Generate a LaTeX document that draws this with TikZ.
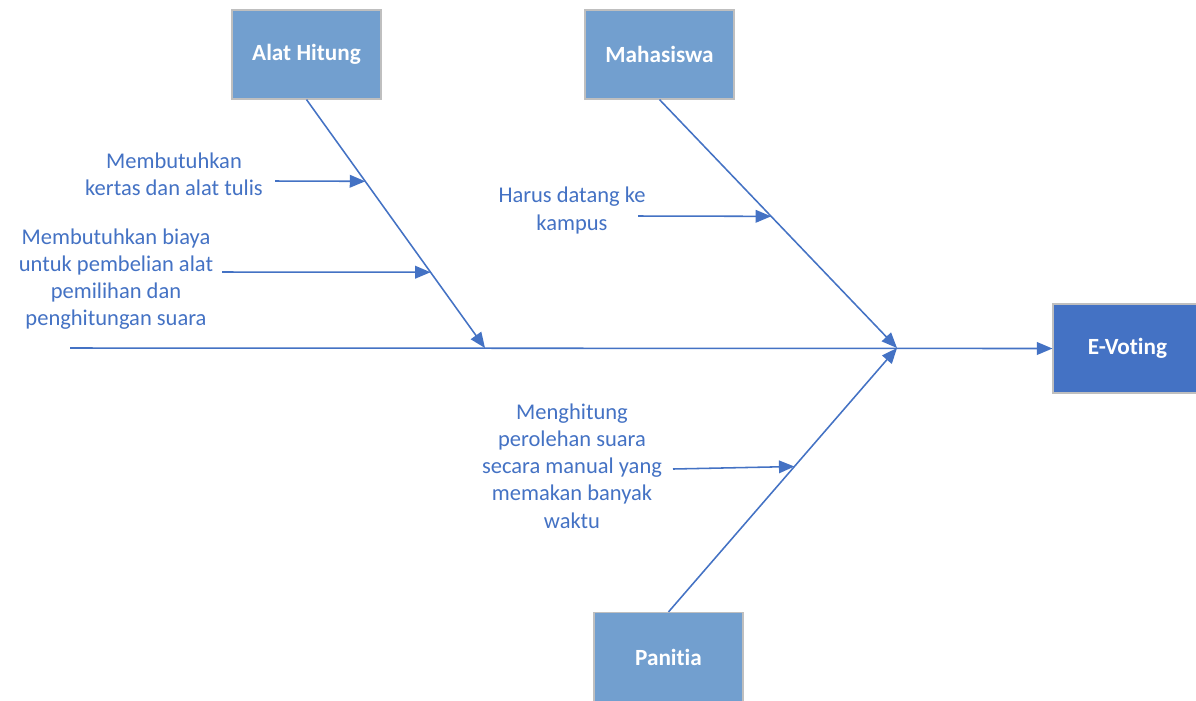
\documentclass[tikz,border=0pt]{standalone}
\usepackage{fontspec}
\setmainfont{Carlito}[Ligatures=NoCommon]
\usetikzlibrary{arrows.meta,calc}
\definecolor{ink}{HTML}{4472C4}
\definecolor{catfill}{HTML}{729FCF}
\definecolor{catline}{HTML}{BFBFBF}
\tikzset{
  category/.style={draw=catline, line width=0.8pt, fill=catfill, text=white,
    minimum width=3.725cm, minimum height=2.225cm, inner sep=0pt,
    font=\fontsize{16.5}{19}\selectfont\bfseries},
  effect/.style={category, fill=ink, draw=catline},
  cause/.style={text=ink, align=center, inner sep=0pt,
    font=\fontsize{16}{19.3}\selectfont},
  bone/.style={draw=ink, line width=1.1pt, -{Triangle[length=11pt,width=9pt]}},
}
\begin{document}
\begin{tikzpicture}[x=0.025cm,y=-0.025cm]
\useasboundingbox (0,0) rectangle (1196,700);
\clip (0,0) rectangle (1196,700);
\fill[white] (0,0) rectangle (1196,700);

% category boxes and the effect
\node[category] (alat) at (306.5,54.5) {Alat Hitung};
\node[category] (mhs)  at (659.5,54.5) {Mahasiswa};
\node[category] (pan)  at (668.5,657) {Panitia};
\node[effect]   (ev)   at (1127.5,348.5) {E-Voting};

% spine and joints
\coordinate (tail) at (70,348);
\coordinate (jA) at (485,348);
\coordinate (jB) at (897,348);
\draw[bone] (tail) -- (ev.west);
\draw[bone] (alat.south) -- (jA);
\draw[bone] (mhs.south) -- (jB);
\draw[bone] (pan.north) -- (jB);

% causes
\node[cause] (c1) at (174,174.5) {Membutuhkan\\kertas dan alat tulis};
\node[cause] (c2) at (116,279) {Membutuhkan biaya\\untuk pembelian alat\\pemilihan dan\\penghitungan suara};
\node[cause] (c3) at (572,210.5) {Harus datang ke\\kampus};
\node[cause] (c4) at (572,466) {Menghitung\\perolehan suara\\secara manual yang\\memakan banyak\\waktu};

\coordinate (s1) at (275,181);
\coordinate (s2) at (222,272);
\coordinate (s3) at (638,216);
\coordinate (s4) at (673,469);
\draw[bone] (s1) -- ($(alat.south)!0.329!(jA)$);
\draw[bone] (s2) -- ($(alat.south)!0.695!(jA)$);
\draw[bone] (s3) -- ($(mhs.south)!0.470!(jB)$);
\draw[bone] (s4) -- ($(pan.north)!0.551!(jB)$);
\end{tikzpicture}
\end{document}
